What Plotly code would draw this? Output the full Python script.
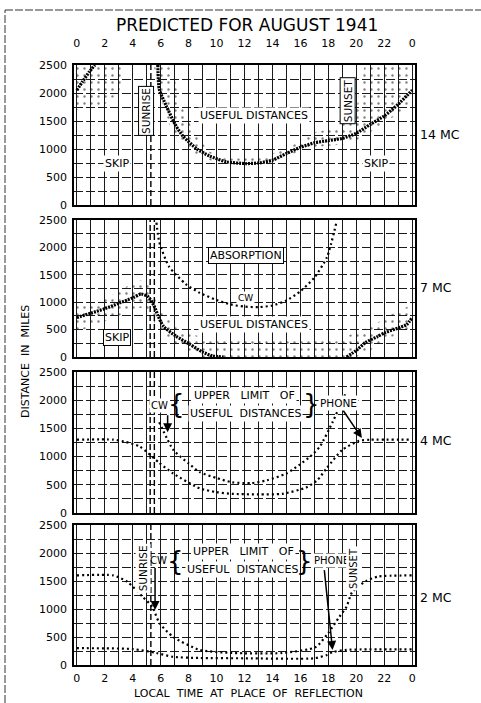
import plotly.graph_objects as go

W, H = 481, 703
FONT = "DejaVu Sans"

# ---------------- data ----------------
hour_ticks = list(range(0, 25))
hour_text = [str(h % 24) if h % 2 == 0 else "" for h in hour_ticks]
dist_ticks = list(range(0, 2501, 250))
dist_text = [str(d) if d % 500 == 0 else "" for d in dist_ticks]

# 14 MC skip distance (stippled curve)
h14_night = [0, 0.4, 0.9, 1.3]
d14_night = [2050, 2200, 2380, 2500]
h14_day = [5.8, 5.9, 6.4, 7.1, 7.6, 8.6, 9.5, 10.7, 12.1, 13.0, 14.0, 15.0, 16.0, 17.0, 18.0, 19.0, 20.0, 21.0, 22.0, 23.0, 24.0]
d14_day = [2500, 2070, 1770, 1410, 1230, 1000, 875, 770, 740, 750, 800, 920, 1030, 1110, 1150, 1190, 1280, 1440, 1590, 1800, 2050]
# 14 MC stippled regions
s14a_h = [0, 1, 2, 3, 3.4]
s14a_hi = [2500, 2500, 2500, 2500, 2500]
s14a_lo = [1700, 1750, 1800, 2000, 2400]
s14b_h = [5.5, 6.0, 6.8, 7.3, 7.8, 8.5, 9.5, 11, 13, 15, 16, 17, 18, 19, 20, 20.6, 21, 24]
s14b_hi = [2500, 2500, 2500, 1900, 1600, 1250, 950, 830, 840, 1000, 1150, 1300, 1350, 1450, 1700, 2500, 2500, 2500]
s14b_lo = [2500, 1900, 1300, 1150, 1050, 900, 800, 720, 720, 870, 960, 1030, 1060, 1080, 1150, 1250, 1300, 1800]

# 7 MC skip distance
h7_night = [0, 1, 2, 3, 4, 4.6, 5.1, 5.5, 5.8, 6.2, 7.1, 8.1, 9.0, 9.7, 10.5]
d7_night = [720, 800, 880, 980, 1080, 1150, 1100, 950, 760, 560, 380, 230, 90, 20, 0]
h7_eve = [19.3, 20.0, 20.7, 21.5, 22.1, 23.0, 23.6, 24.0]
d7_eve = [0, 120, 270, 370, 450, 530, 590, 720]
# 7 MC absorption limit (CW)
h7_abs = [5.7, 5.9, 6.6, 7.8, 8.8, 10, 11, 12, 13, 14, 15, 16, 17, 17.9, 18.6]
d7_abs = [2450, 2100, 1650, 1330, 1170, 1040, 960, 920, 910, 940, 1030, 1200, 1450, 1820, 2480]
# 7 MC stippled regions
s7a_h = [0, 1, 2, 3, 4, 4.6, 5.2, 5.6]
s7a_hi = [950, 950, 1050, 1200, 1350, 1400, 1350, 1100]
s7a_lo = [450, 550, 650, 750, 850, 900, 800, 600]
s7b_h = [5.6, 6, 7, 8, 9, 10, 19, 20, 21, 22, 23, 24]
s7b_hi = [1100, 850, 580, 420, 370, 350, 350, 450, 550, 700, 850, 950]
s7b_lo = [700, 450, 250, 120, 0, 0, 0, 0, 120, 300, 420, 500]

# 4 MC upper limits of useful distances
h4_phone = [0, 2.6, 3.5, 4.5, 5.9, 6.9, 8.8, 10, 11.1, 13, 14.7, 16.4, 17.2, 17.9, 19, 20.2, 21, 24]
d4_phone = [1300, 1300, 1260, 1180, 890, 700, 435, 370, 340, 330, 340, 450, 580, 800, 1120, 1280, 1300, 1300]
h4_cw = [5.9, 6.9, 8.0, 8.8, 10, 11.1, 12.5, 13.6, 15, 15.9, 16.7, 17.4, 18.3, 18.9, 19.3]
d4_cw = [1610, 1120, 880, 725, 620, 545, 530, 580, 700, 850, 1000, 1180, 1610, 1940, 2150]

# 2 MC upper limits of useful distances
h2_cw = [0, 2.6, 3.6, 4.7, 5.4, 5.9, 6.9, 8.8, 11.1, 14.7, 17.1, 18, 18.8, 19.3, 19.7, 20.7, 21.6, 24]
d2_cw = [1600, 1600, 1490, 1220, 1040, 755, 500, 270, 215, 215, 320, 575, 865, 1040, 1300, 1500, 1580, 1600]
h2_phone = [0, 4, 5.7, 6.9, 8.8, 12, 17, 17.9, 18.3, 19.3, 24]
d2_phone = [300, 285, 215, 145, 125, 120, 120, 180, 230, 270, 280]

band_labels = ["14 MC", "7 MC", "4 MC", "2 MC"]

# ---------------- layout geometry (pixels) ----------------
plot_left, plot_right = 74, 415
panel_px = [(65, 205), (220, 357), (372, 513), (525, 665)]


def fx(p):
    return p / W


def fy(p):
    return 1 - p / H


fig = go.Figure()

STIP = dict(shape=".", size=7, solidity=0.09, fgcolor="black")
BAND = dict(color="black", width=3.2, dash="2px,1px")
DOTS = dict(color="black", width=2.2, dash="2px,3px")


def add_poly(h, hi, lo, ax):
    xs = list(h) + list(reversed(h))
    ys = list(hi) + list(reversed(lo))
    fig.add_trace(go.Scatter(x=xs, y=ys, xaxis=ax[0], yaxis=ax[1], mode="lines",
                             fill="toself", fillcolor="rgba(0,0,0,0)", fillpattern=STIP,
                             line=dict(width=0), hoverinfo="skip", showlegend=False))


def add_line(h, d, ax, style, shape="spline"):
    fig.add_trace(go.Scatter(x=h, y=d, xaxis=ax[0], yaxis=ax[1], mode="lines",
                             line=dict(shape=shape, smoothing=0.6, **style),
                             hoverinfo="skip", showlegend=False))


A1, A2, A3, A4 = ("x", "y"), ("x2", "y2"), ("x3", "y3"), ("x4", "y4")

add_poly(s14a_h, s14a_hi, s14a_lo, A1)
add_poly(s14b_h, s14b_hi, s14b_lo, A1)
add_line(h14_night, d14_night, A1, BAND)
add_line(h14_day, d14_day, A1, BAND)

add_poly(s7a_h, s7a_hi, s7a_lo, A2)
add_poly(s7b_h, s7b_hi, s7b_lo, A2)
add_line(h7_night, d7_night, A2, BAND)
add_line(h7_eve, d7_eve, A2, BAND)
add_line(h7_abs, d7_abs, A2, DOTS)

add_line(h4_phone, d4_phone, A3, DOTS)
add_line(h4_cw, d4_cw, A3, DOTS)

add_line(h2_cw, d2_cw, A4, DOTS)
add_line(h2_phone, d2_phone, A4, DOTS)

# ---------------- axes ----------------
axis_common = dict(range=[-0.2, 24.2], tickvals=hour_ticks, ticktext=hour_text,
                   showgrid=True, gridcolor="#1a1a1a", gridwidth=1,
                   showline=True, mirror=True, linecolor="black", linewidth=1.6,
                   zeroline=False, tickfont=dict(family=FONT, size=11, color="black"),
                   domain=[fx(plot_left), fx(plot_right)], fixedrange=True, automargin=False)
yaxis_common = dict(range=[0, 2500], tickvals=dist_ticks, ticktext=dist_text,
                    showgrid=True, gridcolor="#1a1a1a", gridwidth=1, griddash="9px,3px",
                    showline=True, mirror=True, linecolor="black", linewidth=1.6,
                    zeroline=False, tickfont=dict(family=FONT, size=11, color="black"),
                    ticks="outside", ticklen=3, tickcolor="rgba(0,0,0,0)", fixedrange=True,
                    automargin=False)

layout = dict(width=W, height=H, margin=dict(l=0, r=0, t=0, b=0, pad=0, autoexpand=False),
              paper_bgcolor="white", plot_bgcolor="white", showlegend=False,
              font=dict(family=FONT, color="black"))
names = ["", "2", "3", "4"]
for i, (top, bot) in enumerate(panel_px):
    xa = dict(axis_common)
    xa["anchor"] = "y" + names[i]
    if i == 0:
        xa.update(side="top", showticklabels=True, ticks="outside", ticklen=12,
                  tickcolor="rgba(0,0,0,0)")
    elif i == 3:
        xa.update(side="bottom", showticklabels=True, ticks="outside", ticklen=2,
                  tickcolor="rgba(0,0,0,0)")
    else:
        xa.update(showticklabels=False)
    ya = dict(yaxis_common)
    ya["anchor"] = "x" + names[i]
    ya["domain"] = [fy(bot), fy(top)]
    layout["xaxis" + names[i]] = xa
    layout["yaxis" + names[i]] = ya

fig.update_layout(**layout)

# ---------------- shapes ----------------
shapes = []
sunrise = {"": [5.3], "2": [5.25, 5.55], "3": [5.25, 5.55], "4": [5.3]}
for n, xs in sunrise.items():
    for xv in xs:
        shapes.append(dict(type="line", xref="x" + n, yref="y" + n + " domain",
                           x0=xv, x1=xv, y0=0, y1=1,
                           line=dict(color="black", width=1.4, dash="6px,3px")))
# outer border of the page
shapes.append(dict(type="line", xref="paper", yref="paper", x0=fx(5), x1=1, y0=fy(10), y1=fy(10),
                   line=dict(color="#333", width=1, dash="8px,2px")))
shapes.append(dict(type="line", xref="paper", yref="paper", x0=fx(5), x1=fx(5), y0=0, y1=fy(10),
                   line=dict(color="#333", width=1, dash="8px,2px")))
fig.update_layout(shapes=shapes)

# ---------------- annotations ----------------
ann = []


def txt(text, x, y, n, size=11, angle=0, bg="white", border=None, **kw):
    d = dict(text=text, x=x, y=y, xref="x" + n, yref="y" + n, showarrow=False,
             font=dict(family=FONT, size=size, color="black"), textangle=angle,
             bgcolor=bg, borderpad=1, xanchor="center", yanchor="middle")
    if border:
        d.update(bordercolor="black", borderwidth=1)
    d.update(kw)
    ann.append(d)


def arrow(x0, y0, x1, y1, n):
    ann.append(dict(x=x1, y=y1, ax=x0, ay=y0, xref="x" + n, yref="y" + n,
                    axref="x" + n, ayref="y" + n, text="", showarrow=True,
                    arrowhead=2, arrowsize=1.2, arrowwidth=1.5, arrowcolor="black"))


CLEAR = "rgba(0,0,0,0)"
# panel 1 : 14 MC
txt("USEFUL DISTANCES", 12.7, 1600, "")
txt("SKIP", 2.9, 750, "")
txt("SKIP", 21.4, 750, "")
txt("SUNRISE", 4.95, 1680, "", size=10.5, angle=-90, border=True)
txt("SUNSET", 19.4, 1870, "", size=10.5, angle=-90, border=True)
# panel 2 : 7 MC
txt("ABSORPTION", 12.1, 1850, "2", border=True)
txt("CW", 12.1, 1080, "2", size=9)
txt("USEFUL DISTANCES", 12.7, 600, "2")
txt("SKIP", 2.9, 350, "2", border=True)
# panel 3 : 4 MC
txt("CW", 5.95, 1900, "3", size=10)
txt("{", 7.1, 1930, "3", size=26, bg=CLEAR)
txt("UPPER   LIMIT   OF", 12.0, 2090, "3")
txt("USEFUL  DISTANCES", 12.1, 1770, "3")
txt("}", 16.8, 1930, "3", size=26, bg=CLEAR)
txt("PHONE", 18.7, 1950, "3", size=10.5)
arrow(6.5, 1760, 6.5, 1430, "3")
arrow(19.0, 1840, 20.4, 1330, "3")
# panel 4 : 2 MC
txt("SUNRISE", 4.75, 1730, "4", size=10.5, angle=-90)
txt("CW", 5.85, 1875, "4", size=10, bg=CLEAR)
txt("{", 7.05, 1860, "4", size=26, bg=CLEAR)
txt("UPPER   LIMIT   OF", 11.9, 2020, "4")
txt("USEFUL  DISTANCES", 11.85, 1700, "4")
txt("}", 16.3, 1860, "4", size=26, bg=CLEAR)
txt("PHONE", 16.85, 1875, "4", size=10, xanchor="left")
txt("SUNSET", 19.75, 1730, "4", size=10, angle=-90)
arrow(5.6, 1760, 5.6, 980, "4")
arrow(17.7, 1720, 18.3, 270, "4")

# band labels right of panels
for lab, ypx in zip(band_labels, [135, 288, 440, 597]):
    ann.append(dict(text=lab, x=fx(418), y=fy(ypx), xref="paper", yref="paper",
                    xanchor="left", yanchor="middle", showarrow=False,
                    font=dict(family=FONT, size=12.5, color="black")))

# titles
ann.append(dict(text="PREDICTED FOR AUGUST 1941", x=fx(247), y=fy(25), xref="paper", yref="paper",
                xanchor="center", yanchor="middle",
                showarrow=False, font=dict(family=FONT, size=17, color="black")))
ann.append(dict(text="LOCAL  TIME  AT  PLACE  OF  REFLECTION", x=fx(248), y=fy(693), xref="paper",
                yref="paper", xanchor="center", yanchor="middle",
                showarrow=False, font=dict(family=FONT, size=11, color="black")))
ann.append(dict(text="DISTANCE  IN  MILES", x=fx(25), y=fy(362), xref="paper", yref="paper",
                xanchor="center", yanchor="middle",
                textangle=-90, showarrow=False, font=dict(family=FONT, size=11, color="black")))

fig.update_layout(annotations=ann)

fig.write_html("out.html")
